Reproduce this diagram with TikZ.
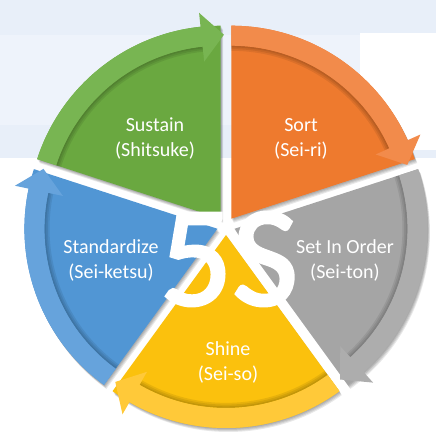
\documentclass[tikz,border=0pt]{standalone}
\usepackage{fontspec}
\setmainfont{Carlito}
\newfontfamily\fsbigfont[FakeBold=2.2]{Carlito}
\definecolor{bgblue}{HTML}{E8EFF9}
\definecolor{bglight}{HTML}{EEF3FB}
\definecolor{grbody}{HTML}{6AA840}
\definecolor{grband}{HTML}{78B552}
\definecolor{orbody}{HTML}{EE7A2E}
\definecolor{orband}{HTML}{F28B4B}
\definecolor{gybody}{HTML}{A5A5A5}
\definecolor{gyband}{HTML}{ADADAD}
\definecolor{ylbody}{HTML}{FBC10D}
\definecolor{ylband}{HTML}{FFC939}
\definecolor{blbody}{HTML}{5196D4}
\definecolor{blband}{HTML}{66A3DC}
\newcommand{\Ro}{193}
\newcommand{\Ri}{173}
% #1 start angle (high), #2 end angle (low, arrow head), #3 body colour, #4 band colour
\newcommand{\fsSeg}[4]{%
  \begin{scope}[shift={({226+9*cos((#1+#2)/2)},{207+9*sin((#1+#2)/2)})}]
    \foreach \k in {1,2,3,4}{
      \fill[black,opacity=0.09,shift={(\k*0.6,-\k*1.0)}]
        (0,0) -- (#1:\Ro) arc[start angle=#1, end angle=#2, radius=\Ro] -- cycle;
    }
    \fill[#3] (0,0) -- (#1:\Ro) arc[start angle=#1, end angle=#2, radius=\Ro] -- cycle;
    \foreach \k in {1,2,3}{
      \fill[black,opacity=0.08]
        (#1:\Ri) arc[start angle=#1, end angle=#2+6, radius=\Ri]
        -- (#2+6:\Ri-\k*1.7) arc[start angle=#2+6, end angle=#1, radius=\Ri-\k*1.7] -- cycle;
    }
    \fill[#4] (#1:\Ro) arc[start angle=#1, end angle=#2+6, radius=\Ro]
      -- (#2+6:\Ro+14) -- (#2-1:\Ro-9) -- (#2+6:\Ri-15) -- (#2+6:\Ri)
      arc[start angle=#2+6, end angle=#1, radius=\Ri] -- cycle;
  \end{scope}}
\begin{document}
\begin{tikzpicture}[x=1pt,y=1pt,
  lbl/.style={text=white, align=center, font=\fontsize{20}{25}\selectfont, inner sep=0pt}]
\useasboundingbox (0,0) rectangle (436,433);
\fill[white] (0,0) rectangle (436,433);
\fill[bgblue] (0,433) rectangle (436,275);
\fill[bglight] (0,398) rectangle (360,308);
\fill[white] (360,400) rectangle (436,283);
% segments: blue, yellow, grey, green, orange
\fsSeg{234}{162}{blbody}{blband}
\fsSeg{306}{234}{ylbody}{ylband}
\fsSeg{378}{306}{gybody}{gyband}
\fsSeg{162}{90}{grbody}{grband}
\fsSeg{90}{18}{orbody}{orband}
% labels
\node[lbl] (sustain) at (155,294) {Sustain\\(Shitsuke)};
\node[lbl] (sort) at (301,294) {Sort\\(Sei-ri)};
\node[lbl] (standardize) at (111,173) {Standardize\\(Sei-ketsu)};
\node[lbl] (setinorder) at (345,173) {Set In Order\\(Sei-ton)};
\node[lbl] (shine) at (228,71) {Shine\\(Sei-so)};
\node[text=white, inner sep=0pt, font=\fontsize{143}{143}\fsbigfont] (fives) at (229,174) {5S};
\end{tikzpicture}
\end{document}
